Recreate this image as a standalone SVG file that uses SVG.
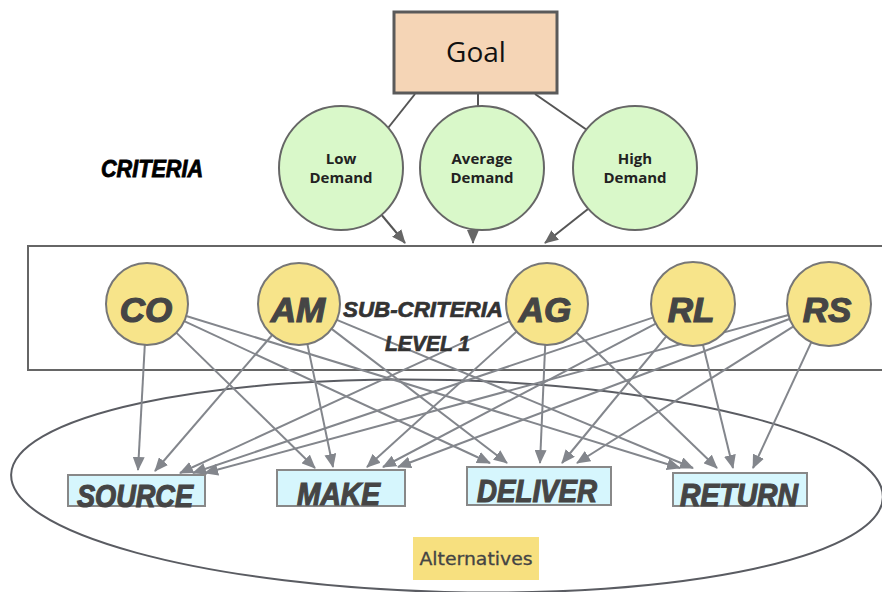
<svg xmlns="http://www.w3.org/2000/svg" width="882" height="592" viewBox="0 0 882 592">
<style>
.crit{fill:#d9f8c9;stroke:#666;stroke-width:2}
.sub{fill:#f7e48a;stroke:#777;stroke-width:2}
.alt{fill:#d6f6fd;stroke:#888;stroke-width:2}
.marker{font-family:"Liberation Sans",Arial,sans-serif;font-weight:bold;font-style:italic}
.ctxt{font-family:"Open Sans","Noto Sans",sans-serif;font-weight:bold;font-size:15px;fill:#222;text-anchor:middle}
.sublbl{font-size:35px;fill:#454545;stroke:#454545;stroke-width:1.2;text-anchor:middle}
.altlbl{font-size:32px;fill:#454545;stroke:#454545;stroke-width:1.2}
.conn{stroke:#83868c;stroke-width:2;fill:none;marker-end:url(#ah)}
.tl{stroke:#555;stroke-width:2;fill:none}
</style>
<defs>
<marker id="ah" markerWidth="14" markerHeight="12" refX="13" refY="6" orient="auto" markerUnits="userSpaceOnUse">
<path d="M0,0 L14,6 L0,12 Z" fill="#83868c"/>
</marker>
<marker id="ah2" markerWidth="14" markerHeight="12" refX="13" refY="6" orient="auto" markerUnits="userSpaceOnUse">
<path d="M0,0 L14,6 L0,12 Z" fill="#666"/>
</marker>
</defs>
<rect width="882" height="592" fill="#fff"/>

<g id="alternatives-ellipse">
<ellipse cx="447" cy="486" rx="436" ry="106" fill="none" stroke="#5a5c62" stroke-width="2" transform="rotate(1.5 447 486)"/>
</g>

<g id="subcriteria-box">
<rect x="28" y="246" width="870" height="124" fill="none" stroke="#666" stroke-width="2"/>
</g>

<g id="connectors">
<line class="tl" x1="415" y1="94" x2="388" y2="128"/>
<line class="tl" x1="478" y1="94" x2="478" y2="107"/>
<line class="tl" x1="535" y1="94" x2="587" y2="130"/>
<line stroke="#555" stroke-width="2" x1="380" y1="213" x2="405" y2="243" marker-end="url(#ah2)"/>
<line stroke="#555" stroke-width="2" x1="473" y1="229" x2="473" y2="243" marker-end="url(#ah2)"/>
<line stroke="#555" stroke-width="2" x1="588" y1="209" x2="545" y2="243" marker-end="url(#ah2)"/>

<line class="conn" x1="144.8" y1="345" x2="138" y2="470"/>
<line class="conn" x1="176.3" y1="332.6" x2="315" y2="468"/>
<line class="conn" x1="184.2" y1="321.2" x2="490" y2="463"/>
<line class="conn" x1="186.2" y1="316" x2="680" y2="468"/>

<line class="conn" x1="272.2" y1="335" x2="155" y2="471"/>
<line class="conn" x1="307.4" y1="344.1" x2="333" y2="467"/>
<line class="conn" x1="331.6" y1="328.9" x2="507" y2="463"/>
<line class="conn" x1="336.8" y1="319.8" x2="693" y2="468"/>

<line class="conn" x1="509.8" y1="321.1" x2="180" y2="473"/>
<line class="conn" x1="516.6" y1="331.5" x2="367" y2="467"/>
<line class="conn" x1="545.2" y1="345" x2="540" y2="463"/>
<line class="conn" x1="576.5" y1="332.5" x2="717" y2="468"/>

<line class="conn" x1="654.2" y1="317.1" x2="193" y2="473"/>
<line class="conn" x1="656.7" y1="323.1" x2="383" y2="467"/>
<line class="conn" x1="666.9" y1="335.7" x2="562" y2="463"/>
<line class="conn" x1="702.7" y1="343.8" x2="733" y2="468"/>

<line class="conn" x1="789.4" y1="314.7" x2="205" y2="473"/>
<line class="conn" x1="790.7" y1="318.5" x2="398" y2="467"/>
<line class="conn" x1="794.3" y1="325.9" x2="577" y2="463"/>
<line class="conn" x1="811.8" y1="341.2" x2="753" y2="468"/>
</g>

<g id="goal">
<rect x="394" y="12" width="163" height="81" fill="#f5d5b6" stroke="#5a5a5a" stroke-width="3"/>
<text x="476" y="62" font-family="'Open Sans','Noto Sans',sans-serif" font-size="28" fill="#111" text-anchor="middle">Goal</text>
</g>

<g id="criteria-label">
<text x="101" y="177" class="marker" font-size="23" fill="#000" stroke="#000" stroke-width="0.8" textLength="102" lengthAdjust="spacingAndGlyphs">CRITERIA</text>
</g>

<g id="low-demand">
<circle class="crit" cx="341" cy="168" r="62"/>
<text class="ctxt"><tspan x="341" y="164">Low</tspan><tspan x="341" y="183">Demand</tspan></text>
</g>
<g id="average-demand">
<circle class="crit" cx="482" cy="168" r="62"/>
<text class="ctxt"><tspan x="482" y="164">Average</tspan><tspan x="482" y="183">Demand</tspan></text>
</g>
<g id="high-demand">
<circle class="crit" cx="635" cy="168" r="62"/>
<text class="ctxt"><tspan x="635" y="164">High</tspan><tspan x="635" y="183">Demand</tspan></text>
</g>

<g id="subcriteria-label">
<text x="343" y="317" class="marker" font-size="22" fill="#333" stroke="#333" stroke-width="0.7" textLength="160" lengthAdjust="spacingAndGlyphs">SUB-CRITERIA</text>
<text x="385" y="351" class="marker" font-size="22" fill="#333" stroke="#333" stroke-width="0.7" textLength="85" lengthAdjust="spacingAndGlyphs">LEVEL 1</text>
</g>

<g id="co">
<circle class="sub" cx="147" cy="304" r="41"/>
<text class="marker sublbl" x="146" y="322">CO</text>
</g>
<g id="am">
<circle class="sub" cx="299" cy="304" r="41"/>
<text class="marker sublbl" x="298" y="322">AM</text>
</g>
<g id="ag">
<circle class="sub" cx="547" cy="304" r="41"/>
<text class="marker sublbl" x="545" y="322">AG</text>
</g>
<g id="rl">
<circle class="sub" cx="693" cy="304" r="42"/>
<text class="marker sublbl" x="691" y="322">RL</text>
</g>
<g id="rs">
<circle class="sub" cx="829" cy="304" r="42"/>
<text class="marker sublbl" x="827" y="322">RS</text>
</g>

<g id="source">
<rect class="alt" x="68" y="475" width="137" height="31"/>
<text class="marker altlbl" x="77" y="507" textLength="116" lengthAdjust="spacingAndGlyphs">SOURCE</text>
</g>
<g id="make">
<rect class="alt" x="277" y="470" width="128" height="36"/>
<text class="marker altlbl" x="297" y="505" textLength="83" lengthAdjust="spacingAndGlyphs">MAKE</text>
</g>
<g id="deliver">
<rect class="alt" x="467" y="467" width="144" height="38"/>
<text class="marker altlbl" x="477" y="502" textLength="120" lengthAdjust="spacingAndGlyphs">DELIVER</text>
</g>
<g id="return">
<rect class="alt" x="673" y="473" width="134" height="33"/>
<text class="marker altlbl" x="680" y="506" textLength="118" lengthAdjust="spacingAndGlyphs">RETURN</text>
</g>

<g id="alternatives-label">
<rect x="413" y="537" width="126" height="43" fill="#f7e07f"/>
<text x="476" y="565" font-family="'DejaVu Sans',sans-serif" font-size="17" fill="#444" stroke="#444" stroke-width="0.3" text-anchor="middle" textLength="113" lengthAdjust="spacingAndGlyphs">Alternatives</text>
</g>
</svg>
